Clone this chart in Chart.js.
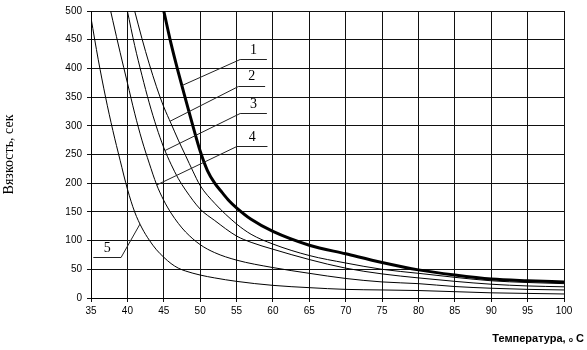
<!DOCTYPE html>
<html>
<head>
<meta charset="utf-8">
<script src="https://cdn.jsdelivr.net/npm/chart.js@4/dist/chart.umd.min.js"></script>
<style>
html,body{margin:0;padding:0;background:#fff;}
#wrap{width:587px;height:350px;}
</style>
</head>
<body>
<div id="wrap"><canvas id="c" width="587" height="350"></canvas></div>
<script>
// ---- data ----
const xTicks = [35, 40, 45, 50, 55, 60, 65, 70, 75, 80, 85, 90, 95, 100];
const yTicks = [0, 50, 100, 150, 200, 250, 300, 350, 400, 450, 500];

const temp1 = [45, 46, 47, 48, 49, 50, 51, 52, 53, 54, 55, 57, 60, 65, 70, 75, 80, 85, 90, 95, 100];
const visc1 = [500, 443, 393, 346, 300, 256, 222, 200, 184, 169, 157, 137, 116, 92, 77, 62, 49, 40, 33, 30, 28];

const temp2 = [41, 42, 43, 44, 45, 46, 47, 48, 49, 50, 52, 55, 57, 60, 65, 70, 75, 80, 85, 90, 95, 100];
const visc2 = [500, 452, 408, 368, 333, 304, 275, 248, 221, 196, 165, 129, 111, 94, 74, 61, 50, 43, 36, 30, 27, 25];

const temp3 = [40, 41, 42, 43, 44, 45, 46, 47, 48, 50, 52, 55, 57, 60, 65, 70, 75, 80, 85, 90, 95, 100];
const visc3 = [500, 440, 388, 340, 298, 262, 233, 208, 188, 155, 135, 108, 97, 85, 67, 52, 42, 35, 29, 24, 21, 19.5];

const temp4 = [37.7, 38, 39, 40, 41, 42, 43, 44, 45, 46, 47, 48, 50, 52, 55, 60, 65, 70, 75, 80, 85, 90, 95, 100];
const visc4 = [500, 483, 428, 375, 322, 275, 235, 198, 170, 148, 130, 115, 93, 79, 66, 53, 43, 34, 28, 25, 20, 17, 15, 14];

const temp5 = [35, 36, 37, 38, 39, 40, 41, 42, 43, 44, 45, 46, 47, 48, 50, 52, 55, 60, 65, 70, 75, 80, 85, 90, 95, 100];
const visc5 = [488, 415, 350, 292, 240, 190, 150, 122, 101, 84, 71, 60, 52, 47, 40, 35, 29, 22, 18, 15, 14, 13, 11, 9, 8, 7];

const calloutLabels = ['1', '2', '3', '4', '5'];
const calloutTip   = [[47.48, 370], [45.87, 308], [45.18, 257], [44.04, 197], [41.74, 129]];
const calloutElbow = [[55.5, 416], [55.26, 370], [55.5, 322], [55.04, 264], [39.13, 71]];
const calloutEnd   = [[59.17, 416], [58.93, 370], [59.17, 322], [59.25, 264], [35.32, 71]];

const yTitle = 'Вязкость, сек';
const xTitleMain = 'Температура, ';
const xTitleDeg = 'o';
const xTitleUnit = ' C';

// ---- build ----
function pts(xs, ys) { return xs.map((x, i) => ({x: x, y: ys[i]})); }
function ds(xs, ys, w) {
  return {
    data: pts(xs, ys), borderColor: '#000', borderWidth: w, pointRadius: 0,
    fill: false, cubicInterpolationMode: 'monotone', tension: 0.4
  };
}

const annot = {
  id: 'annot',
  afterDatasetsDraw(chart) {
    const ctx = chart.ctx, xs = chart.scales.x, ys = chart.scales.y;
    ctx.save();
    ctx.strokeStyle = '#222';
    ctx.lineWidth = 1;
    ctx.fillStyle = '#000';
    ctx.font = '14px "Liberation Serif", "Times New Roman", serif';
    ctx.textAlign = 'center';
    ctx.textBaseline = 'middle';
    for (let i = 0; i < calloutLabels.length; i++) {
      const a = calloutTip[i], b = calloutElbow[i], c = calloutEnd[i];
      ctx.beginPath();
      ctx.moveTo(xs.getPixelForValue(a[0]), ys.getPixelForValue(a[1]));
      ctx.lineTo(xs.getPixelForValue(b[0]), Math.round(ys.getPixelForValue(b[1])) + 0.5);
      ctx.lineTo(xs.getPixelForValue(c[0]), Math.round(ys.getPixelForValue(c[1])) + 0.5);
      ctx.stroke();
      const mx = (xs.getPixelForValue(b[0]) + xs.getPixelForValue(c[0])) / 2;
      const my = ys.getPixelForValue(b[1]) - 9;
      ctx.fillText(calloutLabels[i], mx, my);
    }
    ctx.restore();
  },
  afterDraw(chart) {
    const ctx = chart.ctx;
    ctx.save();
    ctx.fillStyle = '#000';
    ctx.textBaseline = 'alphabetic';
    ctx.textAlign = 'left';
    const big = 'bold 11px "Liberation Sans", Arial, sans-serif';
    const small = 'bold 7px "Liberation Sans", Arial, sans-serif';
    ctx.font = big;
    const w1 = ctx.measureText(xTitleMain).width;
    const w3 = ctx.measureText(xTitleUnit).width;
    ctx.font = small;
    const w2 = ctx.measureText(xTitleDeg).width;
    const right = 584, base = 342;
    let x = right - (w1 + w2 + w3);
    ctx.font = big; ctx.fillText(xTitleMain, x, base); x += w1;
    ctx.font = small; ctx.fillText(xTitleDeg, x, base); x += w2;
    ctx.font = big; ctx.fillText(xTitleUnit, x, base);
    ctx.restore();
  }
};

const tickFont = {family: '"Liberation Sans", Arial, sans-serif', size: 10};

new Chart(document.getElementById('c'), {
  type: 'line',
  data: {
    datasets: [
      ds(temp1, visc1, 3),
      ds(temp2, visc2, 1),
      ds(temp3, visc3, 1),
      ds(temp4, visc4, 1),
      ds(temp5, visc5, 1)
    ]
  },
  options: {
    responsive: false,
    animation: false,
    devicePixelRatio: 1,
    layout: {padding: {top: 8, right: 23, left: 0, bottom: 0}},
    plugins: {legend: {display: false}, tooltip: {enabled: false}},
    scales: {
      x: {
        type: 'linear', min: 35, max: 100,
        afterBuildTicks(s) { s.ticks = xTicks.map(v => ({value: v})); },
        afterFit(s) { s.height = 52; },
        grid: {color: '#111', lineWidth: 1, tickLength: 4, drawTicks: true},
        border: {display: true, color: '#000', width: 1},
        ticks: {color: '#000', font: tickFont, padding: 3, maxRotation: 0, autoSkip: false}
      },
      y: {
        type: 'linear', min: 0, max: 500,
        afterBuildTicks(s) { s.ticks = yTicks.map(v => ({value: v})); },
        afterFit(s) { s.width = 91; },
        grid: {color: '#111', lineWidth: 1, tickLength: 4, drawTicks: true},
        border: {display: true, color: '#000', width: 1},
        ticks: {color: '#000', font: tickFont, padding: 5, autoSkip: false},
        title: {
          display: true, text: yTitle, color: '#000',
          font: {family: '"Liberation Serif", "Times New Roman", serif', size: 14},
          padding: {top: 1, bottom: 0}
        }
      }
    }
  },
  plugins: [annot]
});
</script>
</body>
</html>
